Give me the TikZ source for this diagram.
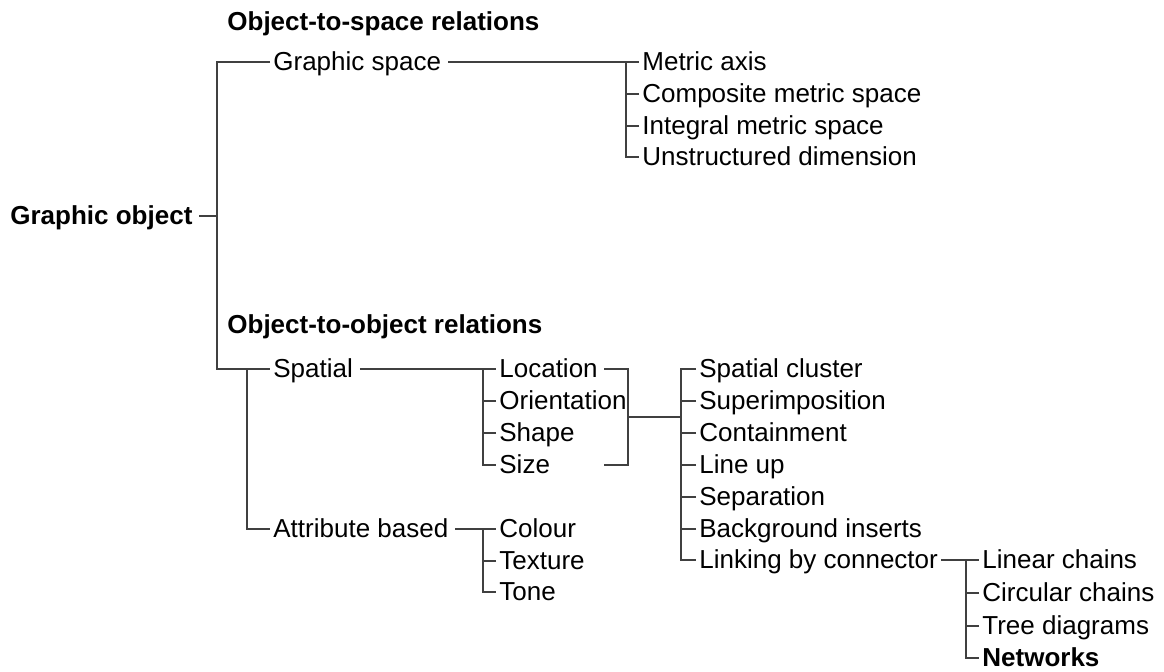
\documentclass[tikz,border=0pt]{standalone}
\usepackage{fontspec}
\setmainfont{Liberation Sans}
\tikzset{lbl/.style={anchor=west,inner xsep=1.5pt,inner ysep=0pt,text height=8pt,text depth=0pt,font=\fontsize{13}{15}\selectfont},
    boldlbl/.style={lbl,font=\fontsize{13}{15}\selectfont\bfseries},
    branch/.style={draw=black!75,line width=0.8pt},
    afterlbl/.style={branch,shorten <=1.8pt}
}
\begin{document}
\begin{tikzpicture}[x=0.5pt,y=-0.5pt]
\useasboundingbox (0,0) rectangle (1164,671);

% headings
\node (spacehead) at (224,22) [boldlbl] {Object-to-space relations};
\node (objhead) at (224,325) [boldlbl] {Object-to-object relations};

% root
\node (gobj) at (7,216) [boldlbl] {Graphic object};
\coordinate (root) at (217,216);

% object-to-space
\node (gspace) at (270,62) [lbl] {Graphic space};
\node (metric) at (639,62) [lbl] {Metric axis};
\node (composite) at (639,94) [lbl] {Composite metric space};
\node (integral) at (639,126) [lbl] {Integral metric space};
\node (unstruct) at (639,157) [lbl] {Unstructured dimension};
\coordinate (gsbar) at (626,62);

% object-to-object
\node (spatial) at (270,369) [lbl] {Spatial};
\node (attrib) at (270,529) [lbl] {Attribute based};
\coordinate (objbar) at (247,369);

\node (location) at (496,369) [lbl] {Location};
\node (orient) at (496,401) [lbl] {Orientation};
\node (shape) at (496,433) [lbl] {Shape};
\node (size) at (496,465) [lbl] {Size};
\coordinate (spbar) at (483,369);

\node (colour) at (496,529) [lbl] {Colour};
\node (texture) at (496,561) [lbl] {Texture};
\node (tone) at (496,592) [lbl] {Tone};
\coordinate (atbar) at (483,529);

% bracket round the four spatial variables
\coordinate (brtop) at (604,369);
\coordinate (brbot) at (604,465);
\coordinate (brace) at (628,417);
\coordinate (relbar) at (681,417);

\node (cluster) at (696,369) [lbl] {Spatial cluster};
\node (superimp) at (696,401) [lbl] {Superimposition};
\node (contain) at (696,433) [lbl] {Containment};
\node (lineup) at (696,465) [lbl] {Line up};
\node (separ) at (696,497) [lbl] {Separation};
\node (backgr) at (696,529) [lbl] {Background inserts};
\node (linking) at (696,560) [lbl] {Linking by connector};

\node (linear) at (979,560) [lbl] {Linear chains};
\node (circular) at (979,593) [lbl] {Circular chains};
\node (tree) at (979,626) [lbl] {Tree diagrams};
\node (networks) at (979,658) [boldlbl] {Networks};
\coordinate (linkbar) at (966,560);

%% connectors
\draw [afterlbl] (gobj.east) -- (root);
\draw [branch] (gspace.west) -| (root) |- (spatial.west);

\draw [afterlbl] (gspace.east) -- (metric.west);
\draw [branch] (gsbar) |- (unstruct.west);
\foreach \n in {composite,integral}
    \draw [branch] (\n.west) -- (\n.west -| gsbar);

\draw [branch] (objbar) |- (attrib.west);

\draw [afterlbl] (spatial.east) -- (location.west);
\draw [branch] (spbar) |- (size.west);
\foreach \n in {orient,shape}
    \draw [branch] (\n.west) -- (\n.west -| spbar);

\draw [afterlbl] (attrib.east) -- (colour.west);
\draw [branch] (atbar) |- (tone.west);
\draw [branch] (texture.west) -- (texture.west -| atbar);

\draw [branch] (brtop) -| (brace) |- (brbot);
\draw [branch] (brace) -- (relbar);
\draw [branch] (cluster.west) -| (relbar) |- (linking.west);
\foreach \n in {superimp,contain,lineup,separ,backgr}
    \draw [branch] (\n.west) -- (\n.west -| relbar);

\draw [branch] (linking.east) -- (linear.west);
\draw [branch] (linkbar) |- (networks.west);
\foreach \n in {circular,tree}
    \draw [branch] (\n.west) -- (\n.west -| linkbar);

\end{tikzpicture}
\end{document}
